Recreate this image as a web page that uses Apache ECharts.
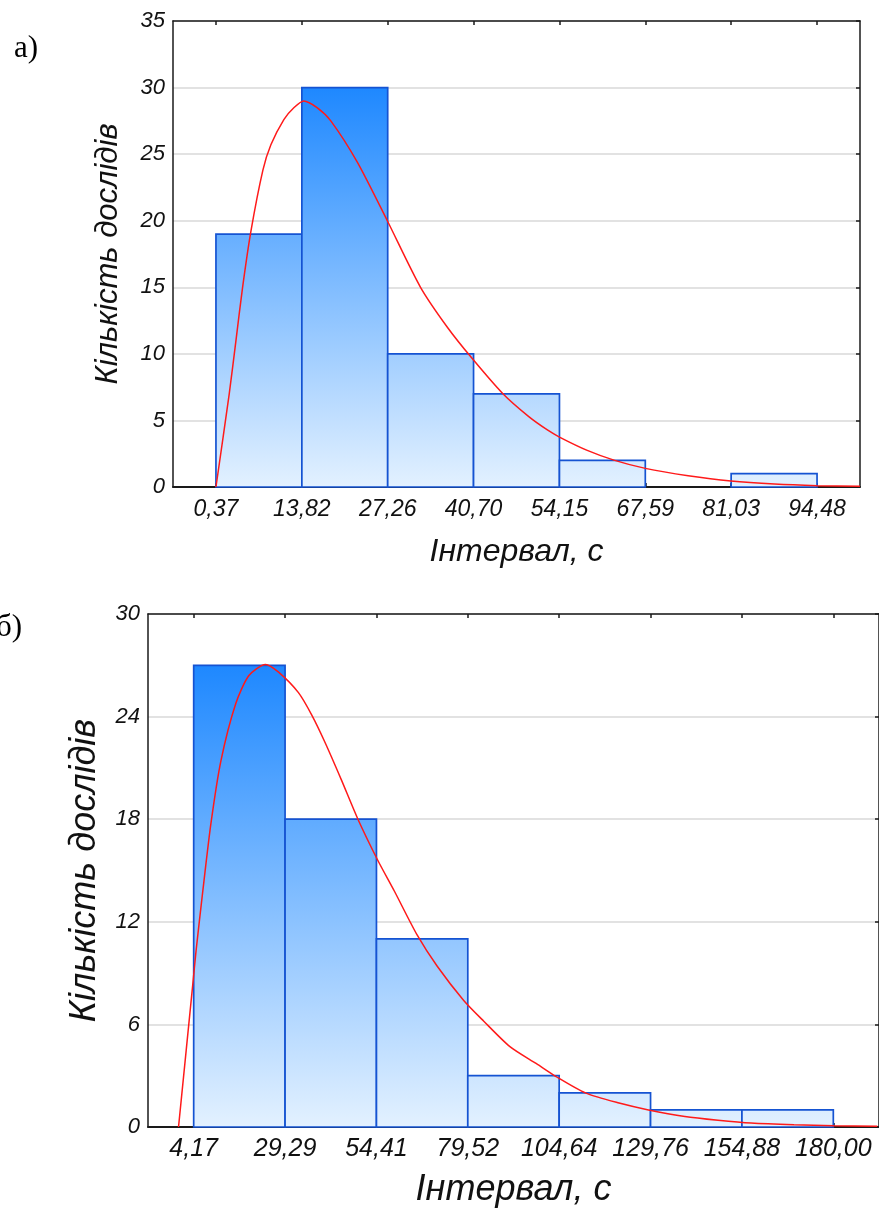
<!DOCTYPE html>
<html>
<head>
<meta charset="utf-8">
<script src="https://cdn.jsdelivr.net/npm/echarts@6/dist/echarts.min.js"></script>
<style>
html,body{margin:0;padding:0;background:#fff;}
#chart{width:879px;height:1215px;}
</style>
</head>
<body>
<div id="chart"></div>
<script>
// ---- Chart a) ----
const edgesA = [0.37, 13.82, 27.26, 40.70, 54.15, 67.59, 81.03, 94.48];
const edgeLabelsA = ['0,37', '13,82', '27,26', '40,70', '54,15', '67,59', '81,03', '94,48'];
const countsA = [19, 30, 10, 7, 2, 0, 1];
const curveA = [
  [0.37, 0], [2.45, 7.0], [3.5, 11.0], [4.54, 15.0], [5.84, 19.2], [7.72, 23.8],
  [8.97, 25.7], [11.0, 27.6], [12.6, 28.5], [14.1, 29.0], [16.2, 28.5], [18.35, 27.5],
  [22.5, 24.4], [27.2, 20.0], [32.4, 15.0], [36.6, 12.0], [40.4, 9.7], [45.3, 7.0],
  [49.3, 5.3], [52.2, 4.3], [54.15, 3.75], [58.5, 2.75], [62.8, 2.0], [67.6, 1.4],
  [74.3, 0.85], [81.0, 0.45], [87.8, 0.22], [94.5, 0.1], [101.2, 0.05]
];
const yMaxA = 35, yStepA = 5;

// ---- Chart б) ----
const edgesB = [4.17, 29.29, 54.41, 79.52, 104.64, 129.76, 154.88, 180.00];
const edgeLabelsB = ['4,17', '29,29', '54,41', '79,52', '104,64', '129,76', '154,88', '180,00'];
const countsB = [27, 18, 11, 3, 2, 1, 1];
const curveB = [
  [0, 0], [3.9, 8.3], [4.82, 10.3], [6.62, 13.7], [8.91, 17.75], [11.64, 21.4],
  [15.72, 24.75], [19.35, 26.4], [23.9, 27.05], [27.5, 26.6], [32.97, 25.4],
  [36.6, 24.1], [40.25, 22.5], [44.77, 20.3], [49.32, 18.0], [54.77, 15.6],
  [59.32, 13.8], [65.67, 11.2], [71.12, 9.4], [78.4, 7.4], [83.85, 6.2],
  [91.1, 4.7], [98.4, 3.7], [103.8, 2.95], [112.0, 1.98], [121.1, 1.4],
  [129.2, 1.0], [139.2, 0.62], [148.3, 0.4], [157.4, 0.23], [169.2, 0.13],
  [180.1, 0.08], [192.1, 0.05]
];
const yMaxB = 30, yStepB = 6;

const axisTitle = 'Інтервал, с';
const yTitle = 'Кількість дослідів';

function binsData(edges, counts) {
  return counts.map((c, i) => [edges[i], edges[i + 1], c]);
}
function halfBin(edges) { return (edges[1] - edges[0]) / 2; }

function font(size) {
  return { fontFamily: 'Liberation Sans', fontStyle: 'italic', fontSize: size, color: '#111' };
}
const lineBlack = { color: '#1a1a1a', width: 1.5 };

function makeRender(maxCount) {
  return function (params, api) {
    const c = api.value(2);
    if (!c) return null;
    const p0 = api.coord([api.value(0), c]);
    const p1 = api.coord([api.value(1), 0]);
    const yTop = api.coord([0, maxCount])[1];
    const yBot = api.coord([0, 0])[1];
    return {
      type: 'rect',
      shape: { x: p0[0], y: p0[1], width: p1[0] - p0[0], height: p1[1] - p0[1] },
      style: {
        fill: new echarts.graphic.LinearGradient(0, yTop, 0, yBot, [
          { offset: 0, color: '#1E88FF' },
          { offset: 1, color: '#E3F1FF' }
        ], true),
        stroke: '#1553D2',
        lineWidth: 1.7
      }
    };
  };
}

function xAxesFor(gridIndex, edges, labels, labelSize, labelMargin, titleSize, titleGap) {
  const h = halfBin(edges);
  const min = edges[0] - h, max = edges[edges.length - 1] + h;
  const fmt = v => {
    let best = 0;
    edges.forEach((e, i) => { if (Math.abs(e - v) < Math.abs(edges[best] - v)) best = i; });
    return labels[best];
  };
  return [
    {
      type: 'value', gridIndex, position: 'bottom', min, max,
      axisLine: { show: true, onZero: false, lineStyle: { color: '#1a1a1a', width: 2 } },
      axisTick: { show: true, inside: true, length: 4, customValues: edges, lineStyle: lineBlack },
      axisLabel: Object.assign({ customValues: edges, formatter: fmt, margin: labelMargin }, font(labelSize)),
      splitLine: { show: false },
      name: axisTitle, nameLocation: 'middle', nameGap: titleGap,
      nameTextStyle: font(titleSize)
    },
    {
      type: 'value', gridIndex, position: 'top', min, max,
      axisLine: { show: true, onZero: false, lineStyle: lineBlack },
      axisTick: { show: true, inside: true, length: 4, customValues: edges, lineStyle: lineBlack },
      axisLabel: { show: false },
      splitLine: { show: false }
    }
  ];
}

function yAxesFor(gridIndex, yMax, step, labelSize, titleSize, gap) {
  return [
    {
      type: 'value', gridIndex, position: 'left', min: 0, max: yMax, interval: step,
      axisLine: { show: true, onZero: false, lineStyle: lineBlack },
      axisTick: { show: false },
      axisLabel: Object.assign({ margin: 8 }, font(labelSize)),
      splitLine: { show: true, lineStyle: { color: '#D9D9D9', width: 1.5 } },
      name: yTitle, nameLocation: 'middle', nameGap: gap, nameRotate: 90,
      nameTextStyle: font(titleSize)
    },
    {
      type: 'value', gridIndex, position: 'right', min: 0, max: yMax, interval: step,
      axisLine: { show: true, onZero: false, lineStyle: lineBlack },
      axisTick: { show: true, inside: true, length: 4, lineStyle: lineBlack },
      axisLabel: { show: false },
      splitLine: { show: false }
    }
  ];
}

const chart = echarts.init(document.getElementById('chart'), null, { renderer: 'canvas' });

const maxA = Math.max(...countsA), maxB = Math.max(...countsB);

chart.setOption({
  backgroundColor: '#ffffff',
  animation: false,
  grid: [
    { left: 173, top: 21, width: 687, height: 466, containLabel: false },
    { left: 148, top: 614, right: -5, height: 513, containLabel: false }
  ],
  xAxis: [
    ...xAxesFor(0, edgesA, edgeLabelsA, 23, 11, 32, 49),
    ...xAxesFor(1, edgesB, edgeLabelsB, 25, 10, 36, 45)
  ],
  yAxis: [
    ...yAxesFor(0, yMaxA, yStepA, 22, 31, 49),
    ...yAxesFor(1, yMaxB, yStepB, 22, 36, 45)
  ],
  graphic: [
    { type: 'text', left: 14, top: 33, style: { text: 'а)', font: '31px "Liberation Serif"', fill: '#000' } },
    { type: 'text', left: -4, top: 612, style: { text: 'б)', font: '31px "Liberation Serif"', fill: '#000' } }
  ],
  series: [
    {
      type: 'custom', xAxisIndex: 0, yAxisIndex: 0,
      renderItem: makeRender(maxA),
      encode: { x: [0, 1], y: 2 },
      data: binsData(edgesA, countsA), z: 2
    },
    {
      type: 'line', xAxisIndex: 0, yAxisIndex: 0, data: curveA, smooth: 0.25,
      showSymbol: false, lineStyle: { color: '#FF1A1A', width: 1.5 }, z: 3
    },
    {
      type: 'custom', xAxisIndex: 2, yAxisIndex: 2,
      renderItem: makeRender(maxB),
      encode: { x: [0, 1], y: 2 },
      data: binsData(edgesB, countsB), z: 2
    },
    {
      type: 'line', xAxisIndex: 2, yAxisIndex: 2, data: curveB, smooth: 0.25,
      showSymbol: false, lineStyle: { color: '#FF1A1A', width: 1.5 }, z: 3
    }
  ]
});
</script>
</body>
</html>
